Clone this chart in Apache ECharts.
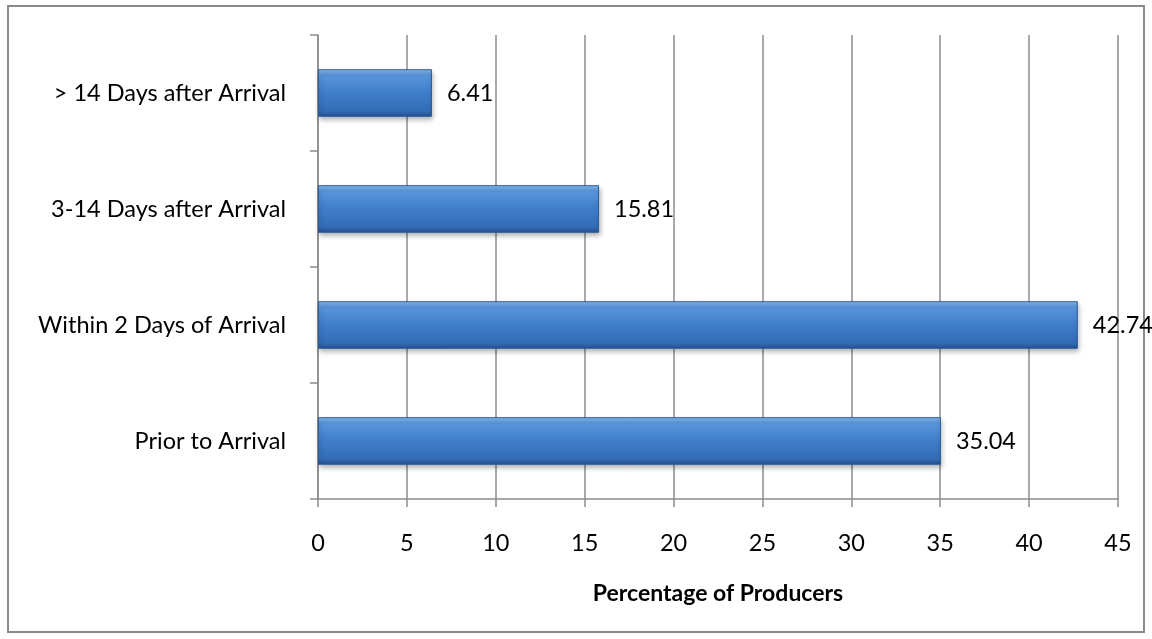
<!DOCTYPE html>
<html>
<head>
<meta charset="utf-8">
<script src="https://cdn.jsdelivr.net/npm/echarts@6/dist/echarts.min.js"></script>
<style>
  html, body { margin: 0; padding: 0; background: #fff; }
  #chart { width: 1152px; height: 639px; }
</style>
</head>
<body>
<div id="chart"></div>
<script>
// Timing of the first handling, share of producers (%)
const categories = [
  'Prior to Arrival',
  'Within 2 Days of Arrival',
  '3-14 Days after Arrival',
  '> 14 Days after Arrival'
];
const percentages = [35.04, 42.74, 15.81, 6.41];
const xTicks = { min: 0, max: 45, step: 5 };
const xTitle = 'Percentage of Producers';

const FONT = 'Lato, "Open Sans", sans-serif';
const GRID_GRAY = '#8c8c8c';
const TEXT_SIZE = 23.5;

const chart = echarts.init(document.getElementById('chart'));

// Bevelled blue bar fill
const barFill = new echarts.graphic.LinearGradient(0, 0, 0, 1, [
  { offset: 0, color: '#8cbdf2' },
  { offset: 0.12, color: '#5a97dc' },
  { offset: 0.5, color: '#3f7dcb' },
  { offset: 0.88, color: '#336cb6' },
  { offset: 1, color: '#23508e' }
]);

chart.setOption({
  animation: false,
  backgroundColor: '#fff',
  graphic: [{
    type: 'rect',
    shape: { x: 8, y: 6, width: 1136, height: 626 },
    style: { fill: 'none', stroke: '#8a8a8a', lineWidth: 2 },
    silent: true
  }],
  grid: { left: 318, right: 34, top: 35, bottom: 140 },
  xAxis: {
    type: 'value',
    min: xTicks.min,
    max: xTicks.max,
    interval: xTicks.step,
    name: xTitle,
    nameLocation: 'middle',
    nameGap: 83,
    nameTextStyle: { fontFamily: FONT, fontSize: 23, fontWeight: 'bold', color: '#000' },
    axisLine: { show: true, lineStyle: { color: GRID_GRAY, width: 1.5 } },
    axisTick: { show: true, length: 8, lineStyle: { color: GRID_GRAY, width: 1.5 } },
    axisLabel: { fontFamily: FONT, fontSize: TEXT_SIZE, color: '#000', margin: 32 },
    splitLine: { show: true, lineStyle: { color: GRID_GRAY, width: 1.5 } }
  },
  yAxis: {
    type: 'category',
    data: categories,
    axisLine: { show: true, lineStyle: { color: GRID_GRAY, width: 1.5 } },
    axisTick: { show: true, length: 8, lineStyle: { color: GRID_GRAY, width: 1.5 } },
    axisLabel: { fontFamily: FONT, fontSize: TEXT_SIZE, color: '#000', margin: 32 }
  },
  series: [{
    type: 'bar',
    data: percentages,
    barWidth: '41%',
    itemStyle: {
      color: barFill,
      borderColor: '#2a5c9c',
      borderWidth: 1,
      shadowColor: 'rgba(0,0,0,0.35)',
      shadowBlur: 5,
      shadowOffsetX: 1,
      shadowOffsetY: 3
    },
    label: {
      show: true,
      position: 'right',
      distance: 15,
      fontFamily: FONT,
      fontSize: TEXT_SIZE,
      color: '#000',
      formatter: p => p.value.toFixed(2)
    }
  }]
});
</script>
</body>
</html>
